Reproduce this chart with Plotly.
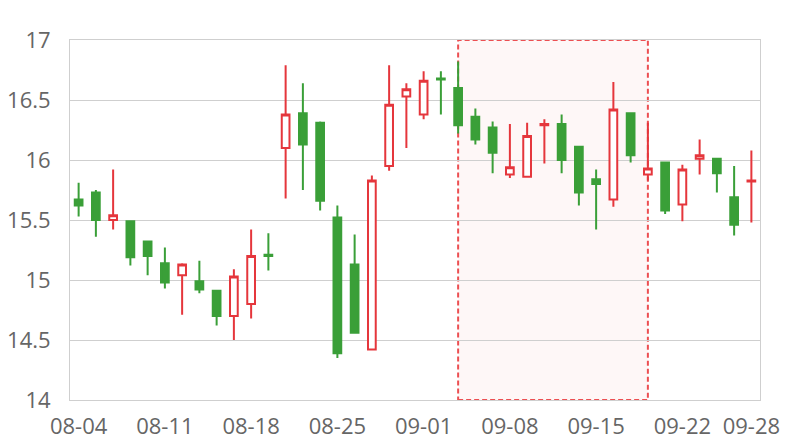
import plotly.graph_objects as go

dates = ["08-04", "08-05", "08-06", "08-07", "08-08",
         "08-11", "08-12", "08-13", "08-14", "08-15",
         "08-18", "08-19", "08-20", "08-21", "08-22",
         "08-25", "08-26", "08-27", "08-28", "08-29",
         "09-01", "09-02", "09-03", "09-04", "09-05",
         "09-08", "09-09", "09-10", "09-11", "09-12",
         "09-15", "09-16", "09-17", "09-18", "09-19",
         "09-22", "09-23", "09-24", "09-25", "09-28"]

open_ = [15.67, 15.73, 15.50, 15.49, 15.32, 15.14, 15.04, 14.99, 14.91, 14.70,
         14.80, 15.21, 16.10, 16.39, 16.31, 15.52, 15.13, 14.42, 15.95, 16.53,
         16.38, 16.68, 16.60, 16.36, 16.27, 15.88, 15.86, 16.29, 16.30, 16.11,
         15.84, 15.67, 16.39, 15.88, 15.98, 15.63, 16.01, 16.01, 15.69, 15.82]
close = [15.62, 15.50, 15.54, 15.19, 15.20, 14.98, 15.13, 14.92, 14.70, 15.03,
         15.20, 15.20, 16.38, 16.13, 15.66, 14.39, 14.56, 15.83, 16.46, 16.59,
         16.66, 16.67, 16.29, 16.17, 16.06, 15.94, 16.20, 16.30, 16.00, 15.73,
         15.80, 16.42, 16.04, 15.93, 15.58, 15.92, 16.04, 15.89, 15.46, 15.83]
high = [15.81, 15.75, 15.92, 15.49, 15.32, 15.27, 15.14, 15.16, 14.91, 15.09,
        15.42, 15.39, 16.79, 16.64, 16.32, 15.62, 15.38, 15.87, 16.79, 16.64,
        16.74, 16.74, 16.82, 16.43, 16.32, 16.30, 16.31, 16.34, 16.38, 16.11,
        15.92, 16.65, 16.39, 16.31, 15.98, 15.96, 16.17, 16.01, 15.95, 16.08]
low = [15.53, 15.36, 15.42, 15.12, 15.04, 14.93, 14.71, 14.89, 14.62, 14.50,
       14.68, 15.08, 15.68, 15.75, 15.58, 14.35, 14.56, 14.42, 15.91, 16.10,
       16.34, 16.38, 16.22, 16.13, 15.89, 15.85, 15.86, 15.97, 15.89, 15.62,
       15.42, 15.61, 15.98, 15.83, 15.55, 15.49, 15.88, 15.73, 15.37, 15.48]

tick_labels = ["08-04", "08-11", "08-18", "08-25", "09-01", "09-08", "09-15", "09-22", "09-28"]
y_ticks = [14, 14.5, 15, 15.5, 16, 16.5, 17]
highlight_start = "09-03"
highlight_end = "09-18"

RED = "#e5363c"
GREEN = "#3a9f38"
GRID = "#cfcfcf"
TXT = "#666666"

fig = go.Figure()
fig.add_trace(go.Candlestick(
    x=dates, open=open_, high=high, low=low, close=close,
    increasing=dict(line=dict(color=RED, width=2), fillcolor="white"),
    decreasing=dict(line=dict(color=GREEN, width=2), fillcolor=GREEN),
    whiskerwidth=0, showlegend=False,
))

fig.add_shape(
    type="rect", xref="x", yref="paper",
    x0=dates.index(highlight_start), x1=dates.index(highlight_end),
    y0=0, y1=1,
    line=dict(color="#ec4f52", width=2, dash="5px,3px"),
    fillcolor="rgba(240,90,90,0.05)", layer="between",
)

# page body has an 8px default margin, so the figure is offset by 8px
fig.update_layout(
    width=792, height=432,
    margin=dict(l=62, r=40, t=32, b=40, autoexpand=False),
    paper_bgcolor="white", plot_bgcolor="white",
    font=dict(family="Open Sans, Noto Sans, sans-serif", size=22, color=TXT),
    boxgap=0.36,
    xaxis=dict(
        type="category", rangeslider=dict(visible=False), automargin=False,
        range=[-0.5, len(dates) - 0.5],
        tickmode="array", tickvals=tick_labels, ticktext=tick_labels,
        showgrid=False, showline=True, linecolor=GRID, linewidth=1, mirror=True,
        ticks="outside", ticklen=7, tickcolor="rgba(0,0,0,0)",
        tickfont=dict(size=22, color=TXT),
    ),
    yaxis=dict(
        range=[14, 17], tickvals=y_ticks, ticktext=[f"{v:g}" for v in y_ticks],
        automargin=False,
        showgrid=True, gridcolor=GRID, gridwidth=1,
        showline=True, linecolor=GRID, linewidth=1, mirror=True, zeroline=False,
        ticks="outside", ticklen=14, tickcolor="rgba(0,0,0,0)",
        tickfont=dict(size=22, color=TXT),
    ),
    hovermode=False,
)

fig.write_html("out.html")
